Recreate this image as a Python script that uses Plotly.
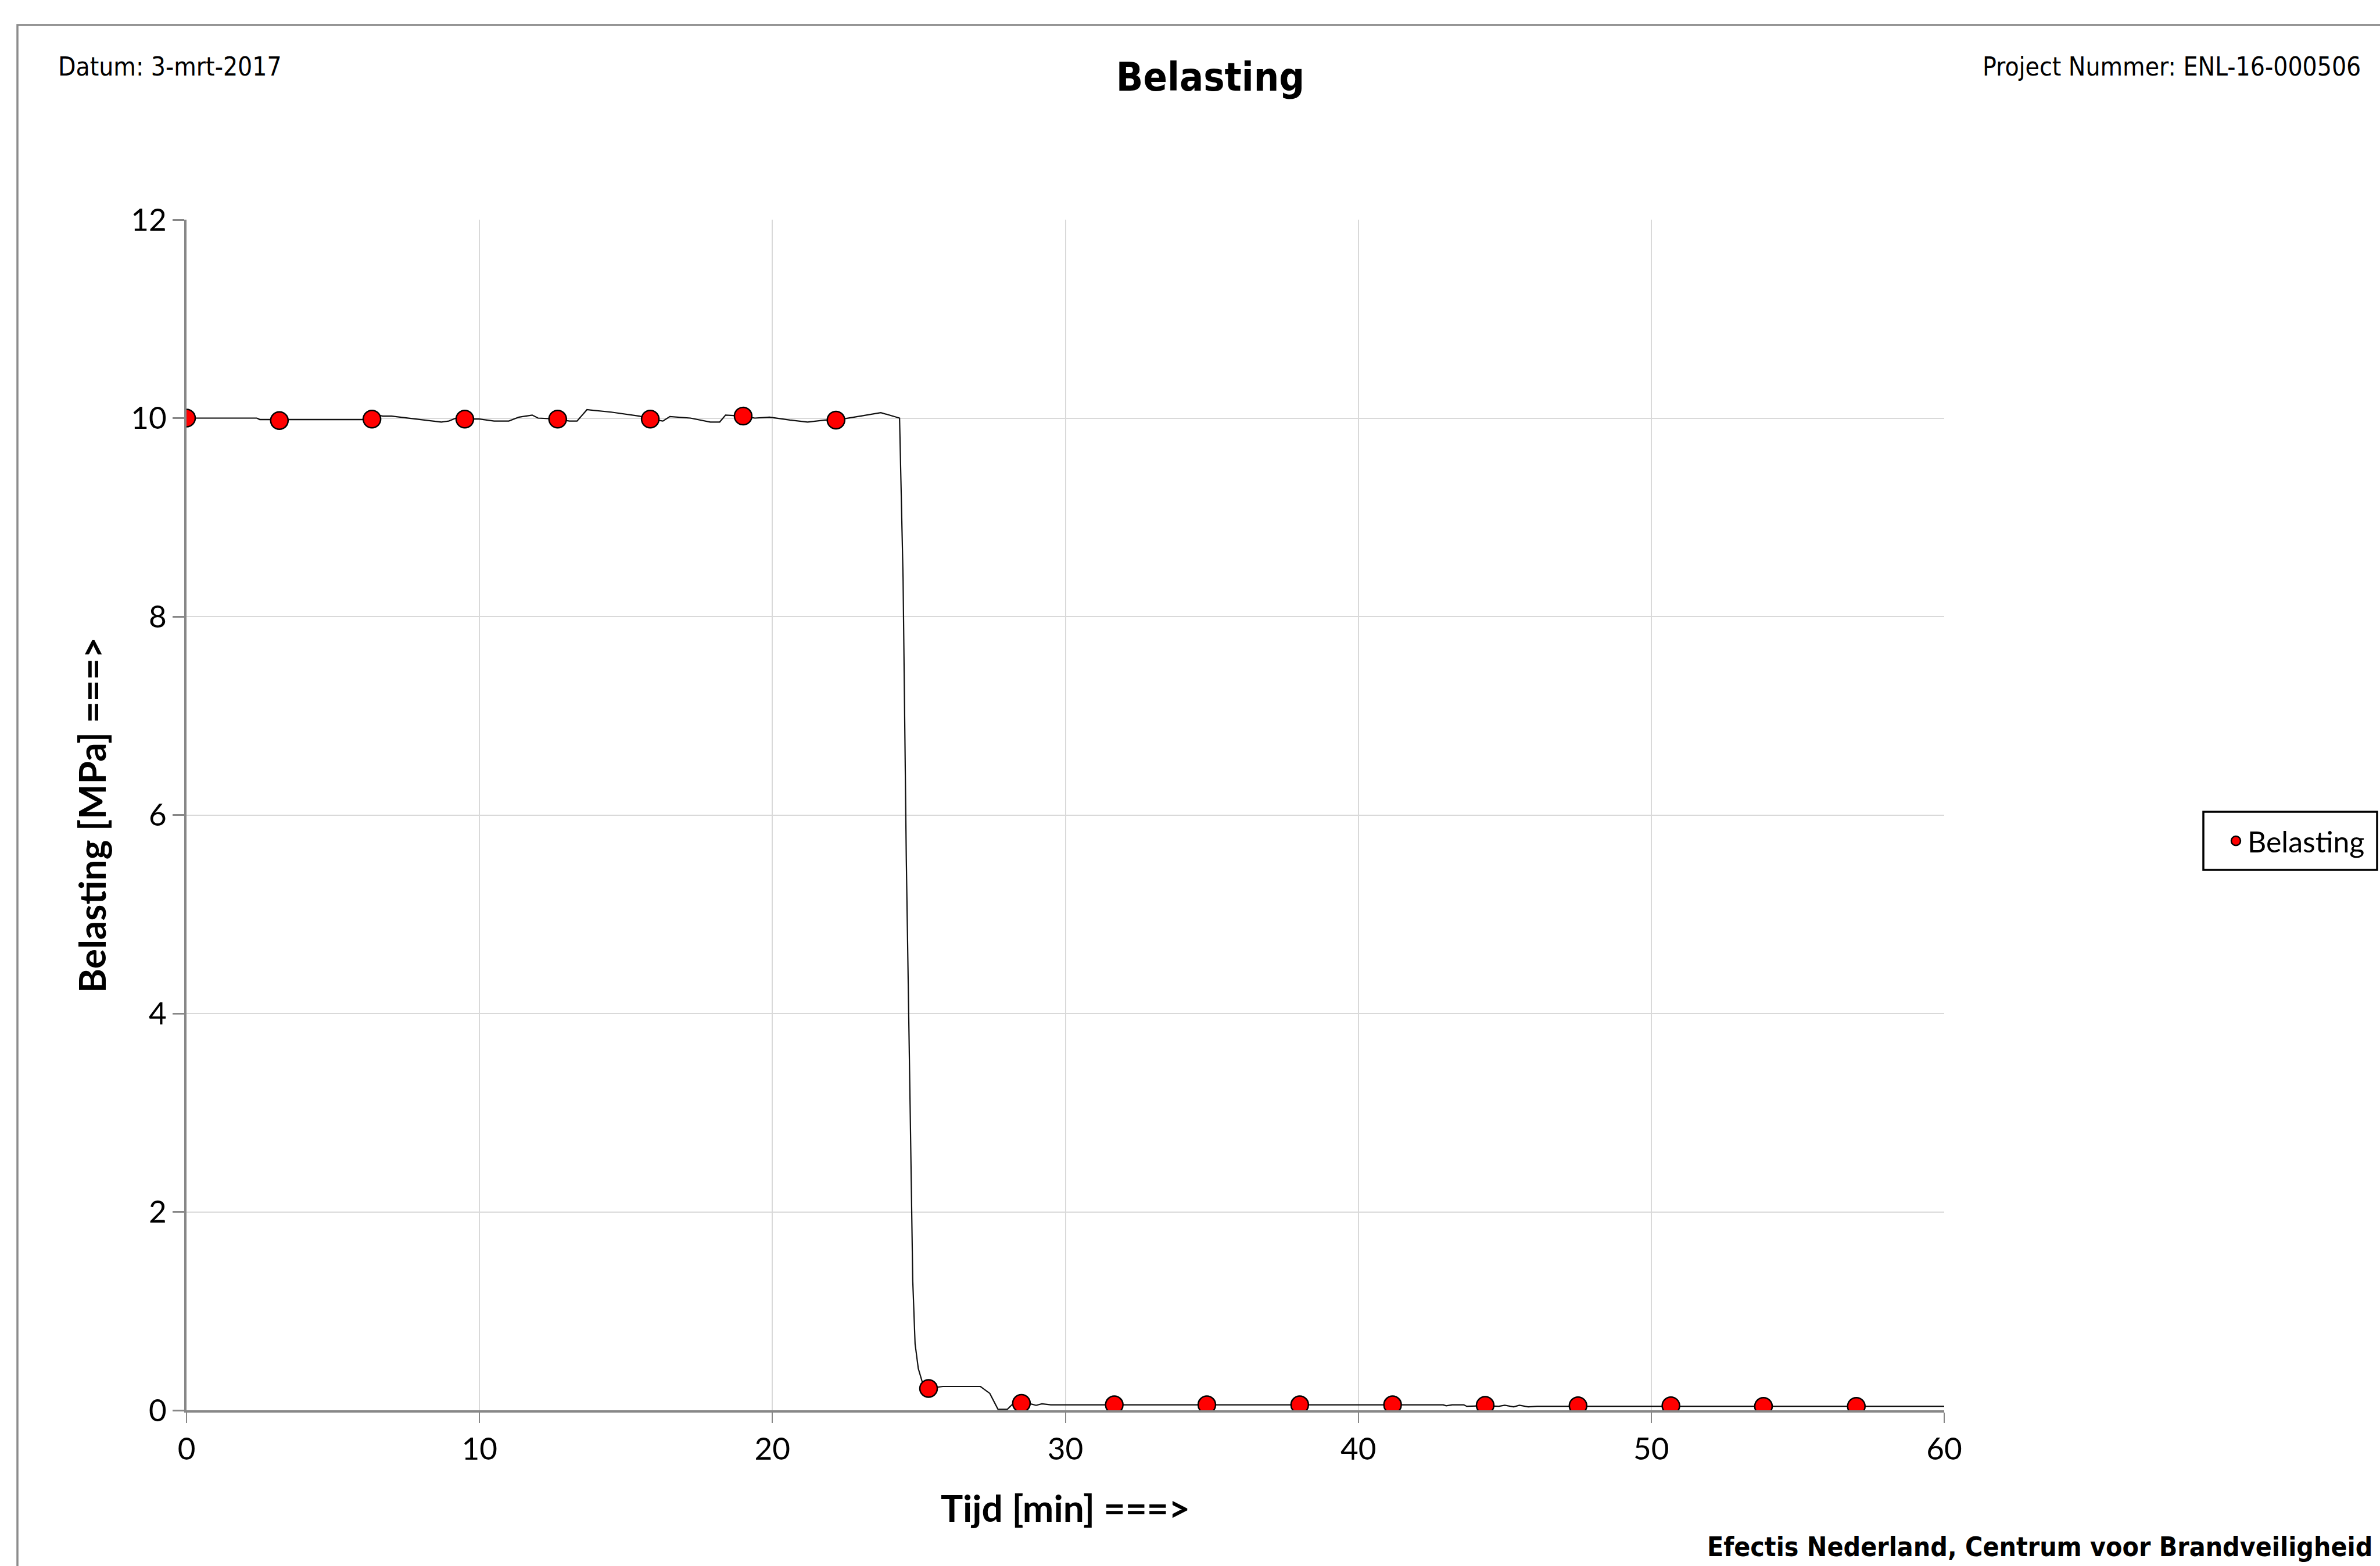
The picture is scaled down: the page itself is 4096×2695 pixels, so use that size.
import plotly.graph_objects as go

# ---------------- data ----------------
# measured curve (time in min, load in MPa), read from the picture
line_t = [0.0, 2.4, 2.5, 6.0, 6.38, 6.7, 7.0, 8.7, 8.95, 9.2, 9.5, 10.0, 10.5, 11.0, 11.35, 11.8, 12.0,
          12.65, 13.07, 13.33, 13.67, 14.5, 15.46, 15.7, 15.84, 16.26, 16.5, 17.2, 17.88, 18.2, 18.4,
          19.0, 19.4, 19.9, 20.6, 21.2, 21.8, 22.18, 22.74, 23.0, 23.7, 24.12, 24.34,
          24.46, 24.57, 24.70, 24.79, 24.87, 24.98, 25.14, 25.34, 25.82, 27.1, 27.42, 27.7, 28.02,
          28.26, 28.5, 28.8, 29.0, 29.2, 29.5, 42.9, 43.0, 43.2, 43.6, 43.7, 44.3, 44.8, 45.0,
          45.3, 45.5, 45.8, 46.1, 60.0]
line_v = [10.0, 10.0, 9.985, 9.985, 10.04, 10.02, 10.02, 9.96, 9.97, 10.0, 9.99, 9.99, 9.97, 9.97, 10.01, 10.03, 10.0,
          9.99, 9.97, 9.97, 10.085, 10.06, 10.02, 10.0, 9.99, 9.97, 10.015, 10.0, 9.96, 9.96, 10.03,
          10.02, 10.0, 10.01, 9.98, 9.96, 9.98, 9.98, 10.005, 10.02, 10.055, 10.02, 10.0,
          8.39, 5.56, 3.08, 1.31, 0.67, 0.42, 0.26, 0.22, 0.24, 0.24, 0.17, 0.01, 0.01,
          0.08, 0.07, 0.065, 0.05, 0.065, 0.055, 0.055, 0.045, 0.055, 0.055, 0.04, 0.045, 0.04, 0.05,
          0.035, 0.05, 0.035, 0.04, 0.04]

# sampled points shown as markers (series "Belasting")
marker_t = [0, 3.17, 6.33, 9.5, 12.67, 15.83, 19.0, 22.17, 25.33, 28.5, 31.67, 34.83, 38.0,
            41.17, 44.33, 47.5, 50.67, 53.83, 57.0]
marker_v = [10.0, 9.975, 9.99, 9.99, 9.99, 9.99, 10.02, 9.98, 0.22, 0.07, 0.055, 0.055, 0.055,
            0.055, 0.05, 0.045, 0.045, 0.04, 0.04]

series_name = "Belasting"
chart_title = "Belasting"
x_title = "Tijd [min] ===>"
y_title = "Belasting [MPa] ===>"
date_text = "Datum: 3-mrt-2017"
project_text = "Project Nummer: ENL-16-000506"
footer_text = "Efectis Nederland, Centrum voor Brandveiligheid"
x_ticks = [0, 10, 20, 30, 40, 50, 60]
y_ticks = [0, 2, 4, 6, 8, 10, 12]

# ---------------- layout geometry (px) ----------------
W, H = 4096, 2695
ML, MR, MT, MB = 321, 750, 378, 268
PW, PH = W - ML - MR, H - MT - MB


def px(xp):
    return (xp - ML) / PW


def py(yp):
    return (H - MB - yp) / PH


TOPFONT = "DejaVu Sans Condensed, DejaVu Sans, sans-serif"
AXFONT = "Lato, Open Sans, sans-serif"
GRAY = "#878787"
GRID = "#d9d9d9"

fig = go.Figure()
fig.add_trace(go.Scatter(x=line_t, y=line_v, mode="lines",
                         line=dict(color="#111111", width=2.2),
                         showlegend=False, hoverinfo="skip"))
fig.add_trace(go.Scatter(x=marker_t, y=marker_v, mode="markers", name=series_name,
                         marker=dict(color="#ff0000", size=30,
                                     line=dict(color="#000000", width=2.5))))

fig.update_layout(
    width=W, height=H,
    margin=dict(l=ML, r=MR, t=MT, b=MB, autoexpand=False),
    paper_bgcolor="white", plot_bgcolor="white",
    title=dict(text=chart_title, x=2083 / W, xref="container", xanchor="center",
               y=1 - 132 / H, yref="container", yanchor="middle",
               font=dict(family=TOPFONT, size=68, color="#000", weight="bold")),
    showlegend=True,
    legend=dict(x=px(3828), xanchor="left", y=py(1447), yanchor="middle",
                borderwidth=0, bgcolor="rgba(0,0,0,0)",
                font=dict(family="Lato, sans-serif", size=50, color="#000")),
    font=dict(family=AXFONT, color="#000"),
)

fig.update_xaxes(range=[0, 60], tickvals=x_ticks, ticktext=[str(v) for v in x_ticks],
                 showgrid=True, gridcolor=GRID, gridwidth=2,
                 showline=True, linecolor=GRAY, linewidth=3.5, zeroline=False,
                 ticks="outside", ticklen=18, tickwidth=2, tickcolor=GRAY,
                 tickfont=dict(family=AXFONT, size=53, color="#000"),
                 title=dict(text=x_title, standoff=53,
                            font=dict(family=AXFONT, size=64, color="#000", weight="bold")))
fig.update_yaxes(range=[0, 12], tickvals=y_ticks, ticktext=[str(v) for v in y_ticks],
                 showgrid=True, gridcolor=GRID, gridwidth=2,
                 showline=True, linecolor=GRAY, linewidth=3.5, zeroline=False,
                 ticks="outside", ticklen=20, tickwidth=3, tickcolor=GRAY,
                 tickfont=dict(family=AXFONT, size=53, color="#000"),
                 title=dict(text=y_title, standoff=23,
                            font=dict(family=AXFONT, size=64, color="#000", weight="bold")))

# outer frame
fig.add_shape(type="rect", xref="paper", yref="paper",
              x0=px(30), x1=px(4200), y0=py(2800), y1=py(43),
              line=dict(color="#8c8c8c", width=3.5), fillcolor="rgba(0,0,0,0)", layer="below")
# legend frame
fig.add_shape(type="rect", xref="paper", yref="paper",
              x0=px(3792), x1=px(4091), y0=py(1497), y1=py(1397),
              line=dict(color="#000000", width=3.5), fillcolor="rgba(0,0,0,0)", layer="above")

fig.add_annotation(text=date_text, xref="paper", yref="paper", x=px(98), y=py(115),
                   xanchor="left", yanchor="middle", showarrow=False,
                   font=dict(family=TOPFONT, size=44, color="#000"))
fig.add_annotation(text=project_text, xref="paper", yref="paper", x=px(4065), y=py(115),
                   xanchor="right", yanchor="middle", showarrow=False,
                   font=dict(family=TOPFONT, size=44, color="#000"))
fig.add_annotation(text=footer_text, xref="paper", yref="paper", x=px(2936), y=py(2662),
                   xanchor="left", yanchor="middle", showarrow=False,
                   font=dict(family=TOPFONT, size=46, color="#000", weight="bold"))

fig.write_html("out.html")
